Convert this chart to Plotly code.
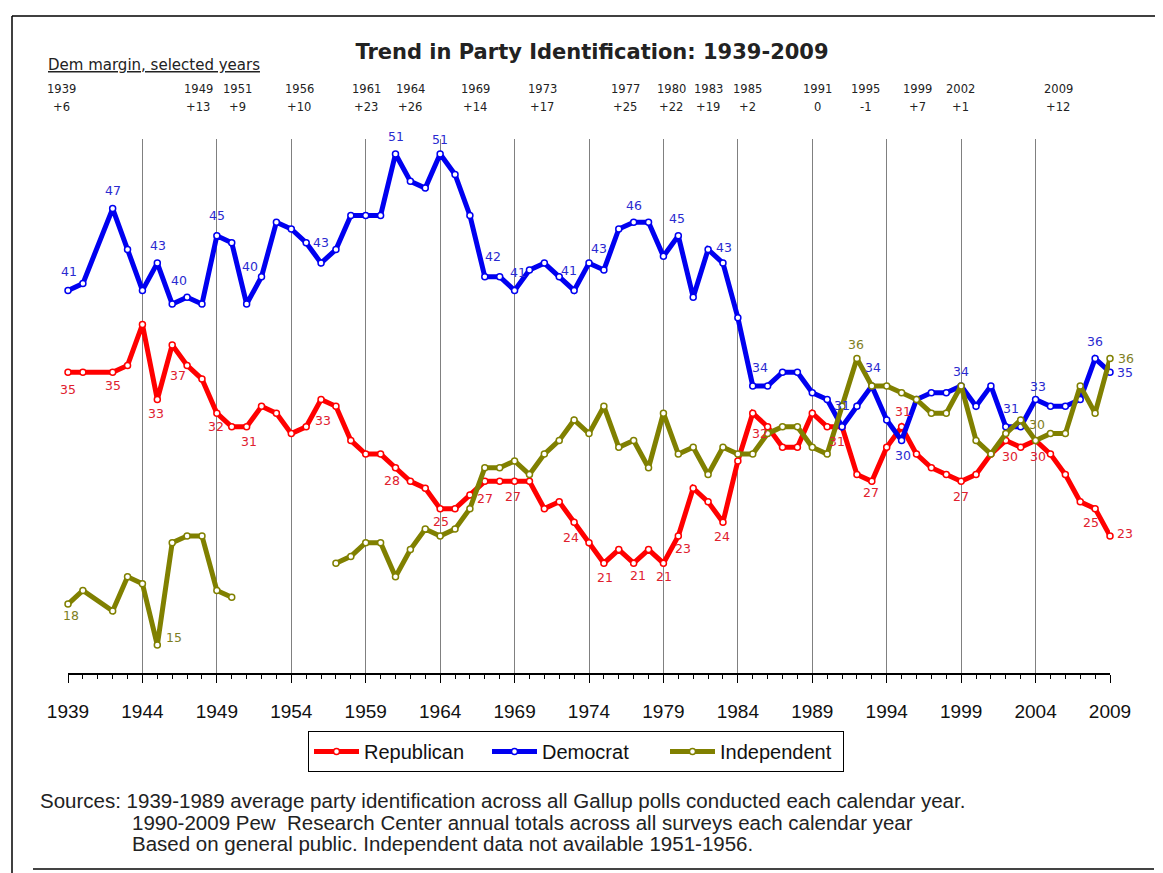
import plotly.graph_objects as go

# ---------------- data ----------------
years = [1939, 1940, 1942, 1943, 1944, 1945, 1946, 1947, 1948, 1949,
         1950, 1951, 1952, 1953, 1954, 1955, 1956, 1957, 1958, 1959,
         1960, 1961, 1962, 1963, 1964, 1965, 1966, 1967, 1968, 1969,
         1970, 1971, 1972, 1973, 1974, 1975, 1976, 1977, 1978, 1979,
         1980, 1981, 1982, 1983, 1984, 1985, 1986, 1987, 1988, 1989,
         1990, 1991, 1992, 1993, 1994, 1995, 1996, 1997, 1998, 1999,
         2000, 2001, 2002, 2003, 2004, 2005, 2006, 2007, 2008, 2009]

democrat = [41, 41.5, 47, 44, 41, 43, 40, 40.5, 40, 45,
            44.5, 40, 42, 46, 45.5, 44.5, 43, 44, 46.5, 46.5,
            46.5, 51, 49, 48.5, 51, 49.5, 46.5, 42, 42, 41,
            42.5, 43, 42, 41, 43, 42.5, 45.5, 46, 46, 43.5,
            45, 40.5, 44, 43, 39, 34, 34, 35, 35, 33.5,
            33, 31, 32.5, 34, 31.5, 30, 33, 33.5, 33.5, 34,
            32.5, 34, 31, 31, 33, 32.5, 32.5, 33, 36, 35]

republican = [35, 35, 35, 35.5, 38.5, 33, 37, 35.5, 34.5, 32,
              31, 31, 32.5, 32, 30.5, 31, 33, 32.5, 30, 29,
              29, 28, 27, 26.5, 25, 25, 26, 27, 27, 27,
              27, 25, 25.5, 24, 22.5, 21, 22, 21, 22, 21,
              23, 26.5, 25.5, 24, 28.5, 32, 31, 29.5, 29.5, 32,
              31, 31, 27.5, 27, 29.5, 31, 29, 28, 27.5, 27,
              27.5, 29, 30, 29.5, 30, 29, 27.5, 25.5, 25, 23]

independent = [18, 19, 17.5, 20, 19.5, 15, 22.5, 23, 23, 19,
               18.5, None, None, None, None, None, None, 21, 21.5, 22.5,
               22.5, 20, 22, 23.5, 23, 23.5, 25, 28, 28, 28.5,
               27.5, 29, 30, 31.5, 30.5, 32.5, 29.5, 30, 28, 32,
               29, 29.5, 27.5, 29.5, 29, 29, 30.5, 31, 31, 29.5,
               29, 32.5, 36, 34, 34, 33.5, 33, 32, 32, 34,
               30, 29, 30.5, 31.5, 30, 30.5, 30.5, 34, 32, 36]

# years whose values are printed next to the point
dem_label_years = [1939, 1942, 1945, 1946, 1949, 1951, 1956, 1961, 1964, 1967,
                   1969, 1973, 1974, 1977, 1980, 1983, 1985, 1991, 1993, 1995,
                   1999, 2002, 2004, 2008, 2009]
rep_label_years = [1939, 1942, 1945, 1946, 1949, 1951, 1956, 1961, 1964, 1967,
                   1969, 1973, 1975, 1977, 1979, 1980, 1983, 1985, 1991, 1993,
                   1995, 1999, 2002, 2004, 2008, 2009]
ind_label_years = [1939, 1945, 1992, 2004, 2009]

# "Dem margin, selected years" header
margin_years = [1939, 1949, 1951, 1956, 1961, 1964, 1969, 1973, 1977, 1980,
                1983, 1985, 1991, 1995, 1999, 2002, 2009]

x_ticks = [1939, 1944, 1949, 1954, 1959, 1964, 1969, 1974, 1979, 1984,
           1989, 1994, 1999, 2004, 2009]

title_text = "Trend in Party Identification: 1939-2009"
header_title = "Dem margin, selected years"
source_lines = [
    "Sources: 1939-1989 average party identification across all Gallup polls conducted each calendar year.",
    "1990-2009 Pew  Research Center annual totals across all surveys each calendar year",
    "Based on general public. Independent data not available 1951-1956.",
]

# ---------------- layout / style ----------------
OFF = 8                      # page body margin
W, H = 1163 - OFF, 873 - OFF
PL, PR, PT, PB = 68, 1110, 139, 673   # plot area in screen pixels
L, T = PL - OFF, PT - OFF
R, B = W - (PR - OFF), H - (PB - OFF)
PW, PH = PR - PL, PB - PT


def px_x(p):
    return (p - PL) / PW


def px_y(p):
    return (PB - p) / PH


# label offsets (dx right, dy down) in pixels
dem_label_off = [(1, -19), (0, -18), (1, -18), (7, -24), (0, -20), (3, -38), (0, -21),
                 (1, -18), (0, -15), (8, -20), (3, -18), (-5, -20), (10, -15), (0, -17),
                 (-1, -17), (1, -16), (7, -18), (0, -21), (1, -18), (1, 15), (0, -14),
                 (5, -18), (2, -13), (0, -17), (15, 0)]
rep_label_off = [(0, 17), (0, 13), (-1, 14), (6, 31), (-1, 13), (2, 15), (2, 21),
                 (-3, 13), (1, 13), (0, 17), (-2, 15), (-3, 15), (1, 14), (4, 12),
                 (1, 13), (5, 13), (-1, 14), (7, 20), (-5, 15), (-1, 11), (1, -15),
                 (0, 15), (4, 16), (2, 16), (-4, 14), (15, -2)]
ind_label_off = [(3, 11), (17, -8), (-1, -14), (1, -16), (16, 0)]

header_x_px = [61, 198, 237, 299, 366, 410, 475, 542, 625, 671, 708, 747,
               817, 865, 917, 960, 1058]

RED, BLUE, OLIVE = "#FF0000", "#0000F0", "#808000"
RED_T, BLUE_T, OLIVE_T = "#E0202E", "#2A2AD0", "#7E7E1E"

fig = go.Figure()

series = [
    ("Republican", republican, RED),
    ("Democrat", democrat, BLUE),
    ("Independent", independent, OLIVE),
]
for name, vals, col in series:
    fig.add_trace(go.Scatter(
        x=years, y=vals, name=name, mode="lines+markers",
        line=dict(color=col, width=5),
        marker=dict(size=6, color="white", line=dict(color=col, width=1.5)),
        connectgaps=False, cliponaxis=False,
    ))

annotations = []


def add_labels(label_years, offsets, vals, color):
    for yr, (dx, dy) in zip(label_years, offsets):
        v = vals[years.index(yr)]
        annotations.append(dict(
            x=yr, y=v, xref="x", yref="y", text=f"{v:g}", showarrow=False,
            xshift=dx, yshift=-dy,
            font=dict(family="DejaVu Sans, Verdana, sans-serif", size=12.5, color=color),
        ))


add_labels(dem_label_years, dem_label_off, democrat, BLUE_T)
add_labels(rep_label_years, rep_label_off, republican, RED_T)
add_labels(ind_label_years, ind_label_off, independent, OLIVE_T)

# header: Dem margin selected years
annotations.append(dict(
    x=px_x(46), y=px_y(65), xref="paper", yref="paper", xanchor="left", yanchor="middle",
    text=f"<u>{header_title}</u>", showarrow=False,
    font=dict(family="DejaVu Sans, Verdana, sans-serif", size=15, color="#222"),
))
for yr, xp in zip(margin_years, header_x_px):
    i = years.index(yr)
    m = democrat[i] - republican[i]
    mtxt = f"+{m:g}" if m > 0 else f"{m:g}"
    annotations.append(dict(
        x=px_x(xp), y=px_y(89), xref="paper", yref="paper", xanchor="center",
        yanchor="middle", text=str(yr), showarrow=False,
        font=dict(family="DejaVu Sans, Verdana, sans-serif", size=11.5, color="#222"),
    ))
    annotations.append(dict(
        x=px_x(xp), y=px_y(107), xref="paper", yref="paper", xanchor="center",
        yanchor="middle", text=mtxt, showarrow=False,
        font=dict(family="DejaVu Sans, Verdana, sans-serif", size=11.5, color="#222"),
    ))

# sources
src_pos = [(38, 800), (130, 822), (130, 843)]
for txt, (xp, yp) in zip(source_lines, src_pos):
    annotations.append(dict(
        x=px_x(xp), y=px_y(yp), xref="paper", yref="paper", xanchor="left",
        yanchor="middle", text=txt, showarrow=False,
        font=dict(family="Liberation Sans, Arial, sans-serif", size=20.5, color="#222"),
    ))

shapes = [
    dict(type="line", xref="paper", yref="paper", x0=px_x(12), x1=px_x(12),
         y0=px_y(16), y1=px_y(873), line=dict(color="black", width=1.5)),
    dict(type="line", xref="paper", yref="paper", x0=px_x(12), x1=px_x(1163),
         y0=px_y(16), y1=px_y(16), line=dict(color="black", width=1.5)),
    dict(type="line", xref="paper", yref="paper", x0=px_x(33), x1=px_x(1154),
         y0=px_y(869), y1=px_y(869), line=dict(color="#444", width=2)),
]

fig.update_layout(
    width=W, height=H,
    margin=dict(l=L, r=R, t=T, b=B),
    paper_bgcolor="white", plot_bgcolor="white",
    title=dict(text=f"<b>{title_text}</b>", x=(592 - OFF) / W, y=1 - (52 - OFF) / H,
               xanchor="center", yanchor="middle", xref="container", yref="container",
               font=dict(family="DejaVu Sans, Verdana, sans-serif", size=21, color="#222")),
    showlegend=True,
    legend=dict(orientation="h", x=px_x(576), y=px_y(731), xanchor="center", yanchor="top",
                bordercolor="black", borderwidth=1, bgcolor="white",
                font=dict(family="Liberation Sans, Arial, sans-serif", size=20, color="#111"),
                itemwidth=45, entrywidth=118, tracegroupgap=0),
    annotations=annotations,
    shapes=shapes,
)

fig.update_xaxes(
    range=[1939, 2009], tickmode="array", tickvals=x_ticks, ticktext=[str(t) for t in x_ticks],
    showgrid=True, gridcolor="#808080", gridwidth=1.2,
    showline=True, linecolor="black", linewidth=2,
    ticks="outside", ticklen=8, tickwidth=1.2, tickcolor="black",
    minor=dict(dtick=1, tick0=1939, ticks="outside", ticklen=4, tickwidth=1,
               tickcolor="black", showgrid=False),
    ticklabelstandoff=12,
    tickfont=dict(family="Liberation Sans, Arial, sans-serif", size=19, color="#111"),
    zeroline=False, fixedrange=True,
)
fig.update_yaxes(range=[12.95, 52.1], visible=False, fixedrange=True)

fig.write_html("out.html")
